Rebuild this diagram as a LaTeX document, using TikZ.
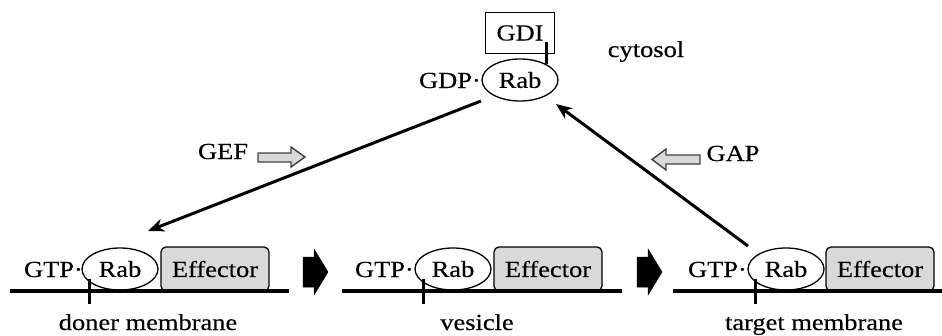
\documentclass[tikz,border=0pt]{standalone}
\usepackage{fontspec}
\setmainfont[FakeStretch=1.15,FakeBold=0.4]{Liberation Serif}
\usetikzlibrary{arrows.meta,shapes.geometric}
\definecolor{boxgray}{HTML}{D9D9D9}
\begin{document}
\begin{tikzpicture}[x=1pt,y=-1pt,
  txt/.style={font=\fontsize{23}{26}\selectfont, inner sep=0pt, anchor=base},
  rab/.style={draw, ellipse, line width=1.3pt, minimum width=76pt, minimum height=42pt, inner sep=0pt, font=\fontsize{23}{26}\selectfont},
  eff/.style={draw, rounded corners=5pt, fill=boxgray, line width=1.3pt, minimum width=108pt, minimum height=44pt, inner sep=0pt, font=\fontsize{23}{26}\selectfont},
  gdibox/.style={draw, line width=1.4pt, minimum width=69pt, minimum height=41pt, inner sep=0pt, font=\fontsize{23}{26}\selectfont},
  mem/.style={line width=3.6pt},
  anchorline/.style={line width=3pt},
  longarrow/.style={line width=3pt, -{Stealth[length=16pt,width=13pt,inset=5pt]}},
  blockarrow/.style={fill=black, draw=black, line width=0.5pt, line join=round},
  hollowarrow/.style={fill=boxgray, draw=black!75, line width=1.4pt}
]
\useasboundingbox (0,0) rectangle (942,335);

% top
\node[gdibox] (gdi) at (520,33) {GDI};
\node[rab] (rabtop) at (520,80) {Rab};
\node[txt, anchor=base east] (gdp) at (481,88) {GDP·};
\node[txt] (cytosol) at (646,57) {cytosol};
\coordinate (gdiTick) at (546,42);
\coordinate (rabTopTick) at (546,64);
\draw[anchorline] (gdiTick) -- (rabTopTick);

% GEF / GAP
\node[txt] (gef) at (223,159) {GEF};
\node[txt] (gap) at (733,161) {GAP};
\draw[hollowarrow] (258,153) -- (291,153) -- (291,147) -- (305,157) -- (291,167) -- (291,162) -- (258,162) -- cycle;
\draw[hollowarrow] (700,155) -- (666,155) -- (666,149) -- (652,159.5) -- (666,170) -- (666,164) -- (700,164) -- cycle;

% bottom row 1
\node[rab] (rab1) at (120,269) {Rab};
\node[eff] (eff1) at (215,269) {Effector};
\node[txt, anchor=base east] (gtp1) at (83,277) {GTP·};
\coordinate (m1a) at (10,291);
\coordinate (m1b) at (289,291);
\draw[mem] (m1a) -- (m1b);
\coordinate (t1a) at (89,279);
\coordinate (t1b) at (89,304);
\draw[anchorline] (t1a) -- (t1b);
\node[txt] (lab1) at (148,330) {doner membrane};

% bottom row 2
\node[rab] (rab2) at (453,269) {Rab};
\node[eff] (eff2) at (548,269) {Effector};
\node[txt, anchor=base east] (gtp2) at (414,277) {GTP·};
\coordinate (m2a) at (342,291);
\coordinate (m2b) at (622,291);
\draw[mem] (m2a) -- (m2b);
\coordinate (t2a) at (423,279);
\coordinate (t2b) at (423,304);
\draw[anchorline] (t2a) -- (t2b);
\node[txt] (lab2) at (477,330) {vesicle};

% bottom row 3
\node[rab] (rab3) at (786,269) {Rab};
\node[eff] (eff3) at (880,269) {Effector};
\node[txt, anchor=base east] (gtp3) at (747,277) {GTP·};
\coordinate (m3a) at (673,291);
\coordinate (m3b) at (942,291);
\draw[mem] (m3a) -- (m3b);
\coordinate (t3a) at (755,279);
\coordinate (t3b) at (755,304);
\draw[anchorline] (t3a) -- (t3b);
\node[txt] (lab3) at (814,330) {target membrane};

% black block arrows
\draw[blockarrow] (303,257) -- (314,257) -- (314,249) -- (328,272) -- (314,295) -- (314,287) -- (303,287) -- cycle;
\draw[blockarrow] (637,257) -- (648,257) -- (648,249) -- (662,272) -- (648,295) -- (648,287) -- (637,287) -- cycle;

% long arrows
\coordinate (gefStart) at (481,101);
\coordinate (gefEnd) at (148,231);
\coordinate (gapStart) at (748,246);
\coordinate (gapEnd) at (556,104);
\draw[longarrow] (gefStart) -- (gefEnd);
\draw[longarrow] (gapStart) -- (gapEnd);
\end{tikzpicture}
\end{document}
